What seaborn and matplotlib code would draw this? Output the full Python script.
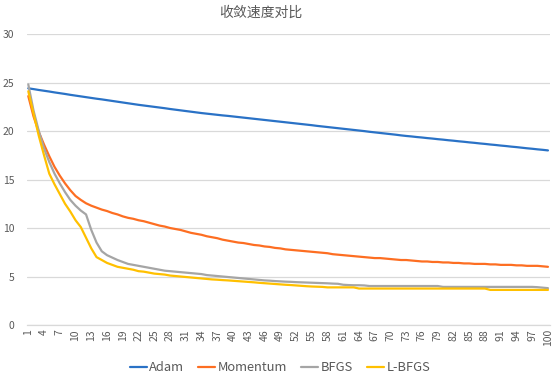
import matplotlib
matplotlib.use("Agg")
import matplotlib.pyplot as plt
import seaborn as sns
import pandas as pd

title = "收敛速度对比"
series_names = ["Adam", "Momentum", "BFGS", "L-BFGS"]
iterations = list(range(1, 101))

adam = [24.40, 24.32, 24.23, 24.15, 24.07, 23.98, 23.90, 23.82, 23.73, 23.65,
        23.57, 23.49, 23.41, 23.33, 23.26, 23.18, 23.10, 23.02, 22.94, 22.86, 22.78, 22.70,
        22.63, 22.56, 22.49, 22.42, 22.35, 22.27, 22.20, 22.13, 22.06, 21.99, 21.92, 21.85,
        21.79, 21.73, 21.67, 21.61, 21.56, 21.50, 21.44, 21.38, 21.32, 21.26, 21.20, 21.14,
        21.08, 21.02, 20.96, 20.90,
        20.84, 20.78, 20.72, 20.66, 20.60, 20.53, 20.47, 20.41, 20.35, 20.29, 20.23, 20.17,
        20.11, 20.05, 19.99, 19.92, 19.86, 19.80, 19.74, 19.68, 19.62, 19.55,
        19.49, 19.44, 19.38, 19.33, 19.27, 19.22, 19.16, 19.11, 19.05, 19.00, 18.94, 18.89,
        18.83, 18.78, 18.72, 18.67, 18.61, 18.56, 18.50, 18.45, 18.39, 18.34, 18.28, 18.22,
        18.17, 18.11, 18.06, 18.00]

momentum = [23.6, 21.5, 19.9, 18.6, 17.4, 16.3, 15.4, 14.6, 13.9, 13.3,
            12.9, 12.55, 12.3, 12.1, 11.9, 11.75, 11.55, 11.4, 11.2, 11.05,
            10.95, 10.8, 10.7, 10.55, 10.4, 10.25, 10.15, 10.0, 9.9, 9.8,
            9.65, 9.5, 9.4, 9.3, 9.15, 9.05, 8.95, 8.8, 8.7, 8.6,
            8.5, 8.45, 8.35, 8.25, 8.2, 8.1, 8.05, 7.95, 7.9, 7.8,
            7.75, 7.7, 7.65, 7.6, 7.55, 7.5, 7.45, 7.4, 7.3, 7.25,
            7.2, 7.15, 7.1, 7.05, 7.0, 6.95, 6.9, 6.9, 6.85, 6.8,
            6.75, 6.7, 6.7, 6.65, 6.6, 6.55, 6.55, 6.5, 6.5, 6.45,
            6.45, 6.4, 6.4, 6.35, 6.35, 6.3, 6.3, 6.3, 6.25, 6.25,
            6.2, 6.2, 6.2, 6.15, 6.15, 6.1, 6.1, 6.1, 6.05, 6.0]

bfgs = [24.8, 22.1, 20.0, 18.2, 16.8, 15.6, 14.6, 13.7, 12.9, 12.3,
        11.8, 11.4, 9.8, 8.5, 7.6, 7.2, 6.95, 6.7, 6.5, 6.3,
        6.2, 6.1, 6.0, 5.9, 5.8, 5.7, 5.6, 5.55, 5.5, 5.45,
        5.4, 5.35, 5.3, 5.25, 5.15, 5.1, 5.05, 5.0, 4.95, 4.9,
        4.85, 4.8, 4.75, 4.7, 4.65, 4.6, 4.57, 4.53, 4.5, 4.47,
        4.45, 4.42, 4.4, 4.38, 4.36, 4.34, 4.32, 4.3, 4.27, 4.25,
        4.15, 4.12, 4.1, 4.1, 4.08, 4.02, 4.02, 4.02, 4.02, 4.02,
        4.02, 4.02, 4.02, 4.02, 4.02, 4.02, 4.02, 4.02, 4.02, 3.93,
        3.93, 3.93, 3.93, 3.93, 3.93, 3.93, 3.93, 3.93, 3.93, 3.93,
        3.93, 3.93, 3.93, 3.93, 3.93, 3.93, 3.93, 3.9, 3.85, 3.8]

lbfgs = [24.1, 21.8, 19.5, 17.5, 15.6, 14.5, 13.5, 12.5, 11.7, 10.8,
         10.1, 9.0, 7.9, 7.0, 6.7, 6.4, 6.2, 6.0, 5.9, 5.8,
         5.7, 5.55, 5.5, 5.4, 5.3, 5.25, 5.2, 5.1, 5.05, 5.0,
         4.95, 4.9, 4.85, 4.8, 4.75, 4.7, 4.67, 4.63, 4.6, 4.56,
         4.52, 4.48, 4.44, 4.4, 4.35, 4.31, 4.27, 4.23, 4.19, 4.15,
         4.12, 4.08, 4.04, 4.0, 3.97, 3.95, 3.93, 3.88, 3.88, 3.88,
         3.88, 3.88, 3.88, 3.76, 3.76, 3.76, 3.76, 3.76, 3.76, 3.76,
         3.76, 3.76, 3.76, 3.76, 3.76, 3.76, 3.76, 3.76, 3.76, 3.76,
         3.76, 3.76, 3.76, 3.76, 3.76, 3.76, 3.76, 3.76, 3.62, 3.62,
         3.62, 3.62, 3.62, 3.62, 3.62, 3.62, 3.62, 3.62, 3.62, 3.62]

x_tick_values = list(range(1, 101, 3))
x_tick_labels = [str(v) for v in x_tick_values]
y_tick_values = [0, 5, 10, 15, 20, 25, 30]

colors = ["#2A72C6", "#FD6E22", "#A5A5A5", "#FFC000"]

df = pd.concat([
    pd.DataFrame({"iter": iterations, "value": vals, "series": name})
    for name, vals in zip(series_names, [adam, momentum, bfgs, lbfgs])
], ignore_index=True)

sns.set_theme(style="white")
plt.rcParams["font.family"] = ["Noto Sans CJK SC", "DejaVu Sans"]

fig = plt.figure(figsize=(5.59, 3.80), dpi=100)
ax = fig.add_axes([0.0478, 0.1447, 0.9362, 0.7658])

sns.lineplot(data=df, x="iter", y="value", hue="series", hue_order=series_names,
             palette=colors, linewidth=1.6, ax=ax, legend=True)

ax.set_xlim(0.7, 100.4)
ax.set_ylim(0, 30)
ax.set_yticks(y_tick_values)
ax.set_yticklabels([str(v) for v in y_tick_values])
ax.set_xticks(x_tick_values)
ax.set_xticklabels(x_tick_labels, rotation=90)
ax.tick_params(axis="both", length=0, labelsize=7.5, colors="#595959")
ax.tick_params(axis="y", pad=9)
ax.tick_params(axis="x", pad=3)
ax.set_xlabel("")
ax.set_ylabel("")
ax.grid(axis="y", color="#D9D9D9", linewidth=0.9)
ax.set_axisbelow(True)
for s in ["top", "right", "left"]:
    ax.spines[s].set_visible(False)
ax.spines["bottom"].set_color("#D9D9D9")
ax.spines["bottom"].set_linewidth(0.9)

handles, labels = ax.get_legend_handles_labels()
ax.legend_.remove()
fig.legend(handles, labels, loc="center", bbox_to_anchor=(0.501, 0.032), ncol=4,
           frameon=False, fontsize=9.3, handlelength=1.3, handletextpad=0.2,
           columnspacing=1.1, labelcolor="#595959")

fig.text(0.467, 0.967, title, ha="center", va="center", fontsize=10, color="#595959")

fig.savefig("out.png", dpi=100)
